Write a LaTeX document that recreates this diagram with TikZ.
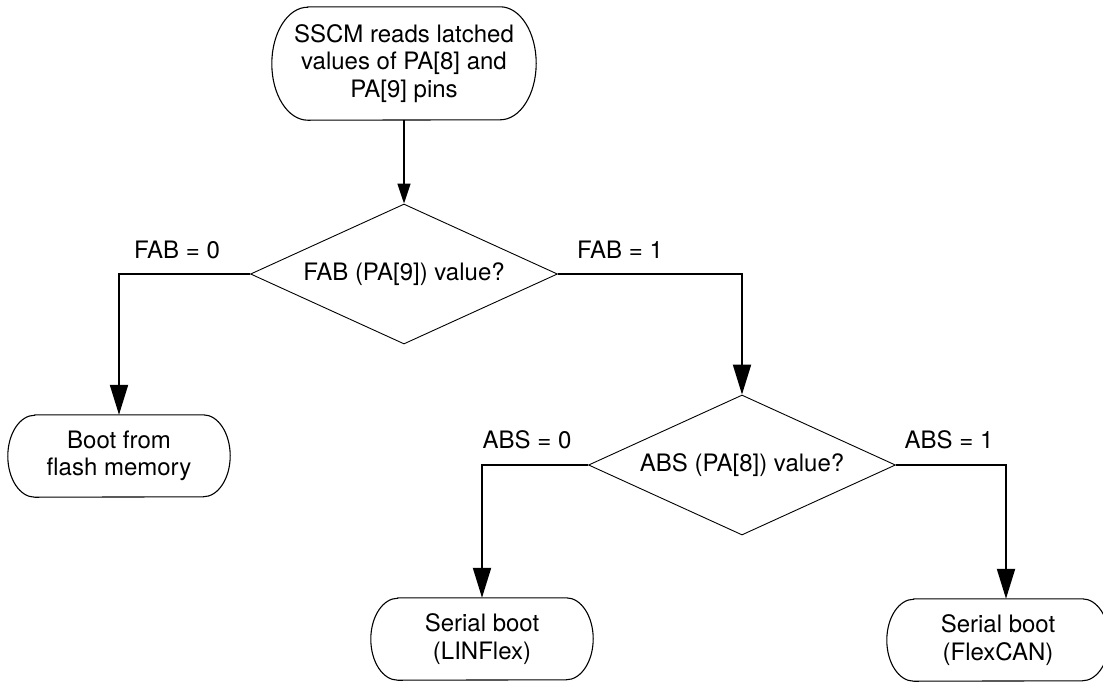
\documentclass[tikz,border=0pt]{standalone}
\usepackage{fontspec}
\setmainfont{TeX Gyre Heros}
\usetikzlibrary{shapes.geometric,arrows.meta}
\tikzset{
  base/.style={font=\fontsize{24}{27.5}\selectfont, align=center},
  term/.style={base, minimum width=222pt, minimum height=82pt, inner sep=0pt},
  frame/.style={line width=1.1pt},
  decide/.style={base, draw, diamond, line width=0.9pt, shape aspect=2.2, minimum width=307pt, minimum height=140pt, inner sep=0pt},
  flow/.style={line width=2pt, -{Triangle[length=30pt,width=18pt]}},
  flowsmall/.style={line width=1.6pt, -{Triangle[length=20pt,width=13pt]}},
  lbl/.style={base, inner sep=0pt}
}
\newcommand\ovalframe[3]{%
  \draw[frame] ([xshift=#2]#1.north west) -- ([xshift=-#2]#1.north east)
    arc[start angle=90,end angle=-90,x radius=#2,y radius=#3]
    -- ([xshift=#2]#1.south west)
    arc[start angle=270,end angle=90,x radius=#2,y radius=#3] -- cycle;}
\begin{document}
\begin{tikzpicture}[x=1pt,y=-1pt]
\clip (0,0) rectangle (1103,681);
\fill[white] (0,0) rectangle (1103,681);
\node[term, minimum width=264pt, minimum height=113pt] (top) at (404,63.5) {SSCM reads latched\\values of PA[8] and\\PA[9] pins};
\ovalframe{top}{36pt}{56.5pt}
\node[decide] (d1) at (404,274) {FAB (PA[9]) value?};
\node[term] (boot) at (119,456) {Boot from\\flash memory};
\ovalframe{boot}{27pt}{41pt}
\node[decide] (d2) at (742,465) {ABS (PA[8]) value?};
\node[term] (lin) at (482,639) {Serial boot\\(LINFlex)};
\ovalframe{lin}{27pt}{41pt}
\node[term] (fc) at (998,640) {Serial boot\\(FlexCAN)};
\ovalframe{fc}{27pt}{41pt}
\node[lbl] (l1) at (177,250) {FAB = 0};
\node[lbl] (l2) at (620,250) {FAB = 1};
\node[lbl] (l3) at (527,440) {ABS = 0};
\node[lbl] (l4) at (949,440) {ABS = 1};
\draw[flowsmall] (top) -- (d1);
\draw[flow] (d1.west) -| (boot.north);
\draw[flow] (d1.east) -| (d2.north);
\draw[flow] (d2.west) -| (lin.north);
\draw[flow] (d2.east) -| ([xshift=8pt]fc.north);
\end{tikzpicture}
\end{document}
